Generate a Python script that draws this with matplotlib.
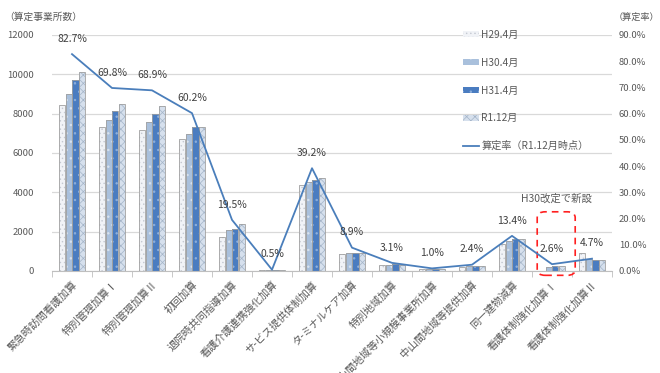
import matplotlib
matplotlib.use("Agg")
import matplotlib.pyplot as plt
import numpy as np
from matplotlib.patches import FancyBboxPatch
from matplotlib.ticker import FuncFormatter, MultipleLocator

plt.rcParams["font.family"] = ["Noto Sans CJK JP", "DejaVu Sans"]
plt.rcParams["hatch.linewidth"] = 0.5

CATEGORIES = [
    "緊急時訪問看護加算", "特別管理加算Ⅰ", "特別管理加算Ⅱ", "初回加算",
    "退院時共同指導加算", "看護介護連携強化加算", "サ-ビス提供体制加算",
    "タ-ミナルケア加算", "特別地域加算", "中山間地域等小規模事業所加算",
    "中山間地域等提供加算", "同一建物減算", "看護体制強化加算Ⅰ", "看護体制強化加算Ⅱ",
]
H29_4 = [8450, 7300, 7150, 6700, 1750, 40, 4350, 880, 330, 90, 220, 1350, 0, 900]
H30_4 = [9000, 7700, 7600, 6950, 2100, 50, 4550, 900, 330, 90, 240, 1550, 220, 600]
H31_4 = [9700, 8150, 8000, 7300, 2150, 60, 4650, 910, 360, 100, 260, 1620, 250, 580]
R1_12 = [10100, 8500, 8400, 7300, 2380, 70, 4750, 920, 330, 100, 260, 1650, 260, 550]
RATE = [82.7, 69.8, 68.9, 60.2, 19.5, 0.5, 39.2, 8.9, 3.1, 1.0, 2.4, 13.4, 2.6, 4.7]

# label, values, face, hatch, hatch colour
SERIES = [
    ("H29.4月", H29_4, "#f1f3f7", "....", "#c4c9d2"),
    ("H30.4月", H30_4, "#a9c0dc", "..", "#d7e2ef"),
    ("H31.4月", H31_4, "#4a7cc0", "..", "#8fb0dc"),
    ("R1.12月", R1_12, "#d6e0ed", "xxxx", "#a4b4c8"),
]
TXT = "#595959"

fig = plt.figure(figsize=(6.6, 3.73), dpi=100)
ax = fig.add_axes([52 / 660, 1 - 271 / 373, 560 / 660, 236 / 373])
x = np.arange(len(CATEGORIES))
width = 0.16
handles = []
for i, (label, vals, face, hatch, hcol) in enumerate(SERIES):
    pos = x + (i - 1.5) * 0.165
    bars = ax.bar(pos, vals, width, color=face, hatch=hatch, edgecolor=hcol,
                  linewidth=0, label=label, zorder=2)
    ax.bar(pos, vals, width, fill=False, edgecolor="#a0a0a0", linewidth=0.6, zorder=2.1)
    handles.append(bars)

ax.set_xlim(-0.5, len(CATEGORIES) - 0.5)
ax.set_ylim(0, 12000)
ax.yaxis.set_major_locator(MultipleLocator(2000))
ax.grid(axis="y", color="#d9d9d9", linewidth=0.9, zorder=0)
ax.set_axisbelow(True)
for s in ["top", "left", "right"]:
    ax.spines[s].set_visible(False)
ax.spines["bottom"].set_color("#bfbfbf")
ax.tick_params(axis="y", length=0, labelsize=6.8, labelcolor=TXT, pad=13)
ax.set_xticks(x)
ax.set_xticklabels(CATEGORIES, rotation=45, ha="right", va="top",
                   rotation_mode="anchor", fontsize=7.5, color=TXT)
ax.tick_params(axis="x", which="major", length=0, pad=6)
ax.set_xticks(np.arange(len(CATEGORIES) + 1) - 0.5, minor=True)
ax.tick_params(axis="x", which="minor", length=4, color="#bfbfbf")

ax2 = ax.twinx()
line, = ax2.plot(x, RATE, color="#4a7ebb", linewidth=1.3, label="算定率（R1.12月時点）", zorder=3)
ax2.set_ylim(0, 90)
ax2.yaxis.set_major_locator(MultipleLocator(10))
ax2.yaxis.set_major_formatter(FuncFormatter(lambda v, p: f"{v:.1f}%"))
for s in ["top", "left", "right", "bottom"]:
    ax2.spines[s].set_visible(False)
ax2.tick_params(axis="y", length=0, labelsize=6.8, labelcolor=TXT, pad=5)
for xi, r in zip(x, RATE):
    ax2.annotate(f"{r}%", (xi, r), xytext=(0, 11), textcoords="offset points",
                 ha="center", va="center", fontsize=7.5, color="#404040")

# highlight box for the new addition
box = FancyBboxPatch((11.63, -220), 0.95, 3230, boxstyle="round,pad=0,rounding_size=0.2",
                     transform=ax.transData, fill=False, edgecolor="#ff2020",
                     linestyle=(0, (4, 3)), linewidth=1.2, clip_on=False, zorder=5,
                     mutation_aspect=1500)
ax.add_patch(box)
ax.text(12.1, 3700, "H30改定で新設", ha="center", va="center", fontsize=7.5, color=TXT)

fig.text(4 / 660, 1 - 17 / 373, "（算定事業所数）", fontsize=7, color=TXT, va="center")
fig.text(659 / 660, 1 - 17 / 373, "（算定率）", fontsize=6.6, color=TXT, va="center", ha="right")

ax2.legend(handles + [line], [s[0] for s in SERIES] + [line.get_label()],
           loc="upper left", bbox_to_anchor=(463 / 660, 1 - 30 / 373),
           bbox_transform=fig.transFigure, frameon=False, fontsize=7.3,
           labelcolor=TXT, labelspacing=1.75, handlelength=1.6, handleheight=0.55,
           handletextpad=0.2, borderpad=0, borderaxespad=0)

fig.savefig("out.png", dpi=100)
